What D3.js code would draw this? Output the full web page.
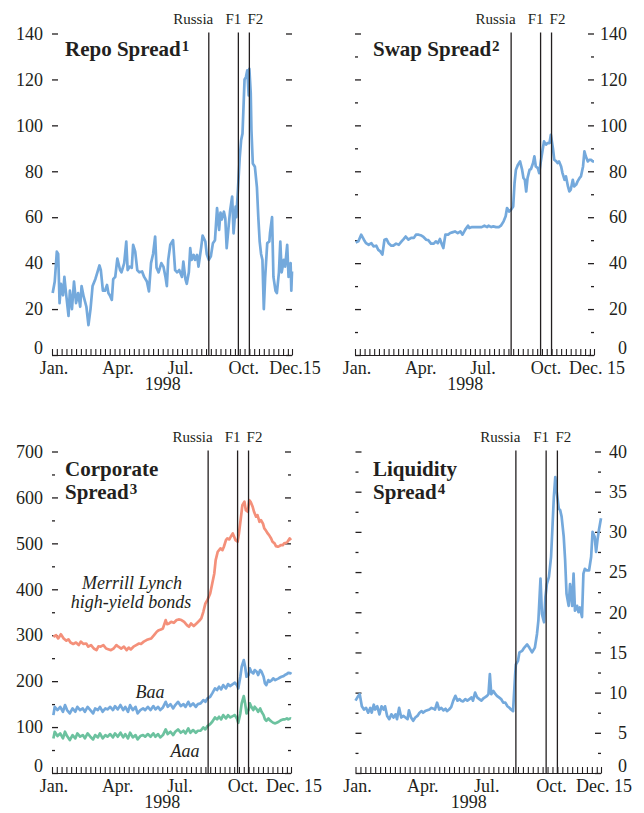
<!DOCTYPE html>
<html>
<head>
<meta charset="utf-8">
<script src="https://cdn.jsdelivr.net/npm/d3@7"></script>
<style>
  body { margin: 0; background: #fff; }
  svg text { font-family: "Liberation Serif", "Times New Roman", serif; fill: #231f20; }
</style>
</head>
<body>
<svg width="644" height="813"></svg>
<script>
// days are counted from Jan 1 1998
const events = [{label: "Russia", day: 228}, {label: "F1", day: 271}, {label: "F2", day: 287}];
const monthNames = ["Jan.", "Apr.", "Jul.", "Oct."];
const monthDays = [0, 90, 181, 273];
const lastDay = 349;

// repo spread, [day, basis points]
const repo = [[1,27],[4,32],[7,45],[9,44],[11,22.6],[13,31],[16,26],[18,34],[20,28],[24,17],[26,28],[29,20],[32,32],[35,22.6],[38,27],[41,21],[43,30],[46,25.5],[50,21],[53,13],[56,20],[59,30],[63,33],[66,36],[69,39],[71,37],[74,28],[77,28],[80,30.5],[82,27],[84,26],[87,24],[89,33],[92,34],[95,42],[99,37],[101,36],[105,40],[108,49.4],[110,37],[113,38.5],[116,38],[118,48],[121,45],[124,37],[127,36],[131,36.4],[134,34],[138,32],[141,27.7],[144,40],[147,44],[150,51.6],[152,38],[155,36],[159,40],[162,38.5],[165,34],[167,30],[169,41.4],[172,48],[176,50],[179,37],[182,36],[185,37],[189,34],[191,40.7],[194,33],[196,31],[199,36],[201,46.5],[203,41.4],[206,43.6],[208,41.4],[211,43.6],[213,38.5],[217,47],[219,52],[223,49.4],[225,44],[228,41.4],[231,43],[234,48.7],[237,50],[240,64],[243,54.5],[245,62],[247,59],[250,62.4],[252,59.5],[254,46.5],[257,56.6],[259,63],[262,69],[264,53],[267,64.6],[268,60],[270,70],[273,86],[275,93.5],[277,96.4],[280,120],[282,121],[284,124],[286,113],[287,124.6],[289,114],[290,98],[292,83.4],[295,82],[298,73],[300,60],[302,49.4],[304,44],[306,41.4],[308,20],[310,34],[313,48.7],[316,49.4],[317,53],[320,60],[322,34],[325,28],[327,27],[330,36],[332,49.4],[334,36],[337,41.4],[339,38.5],[342,48],[344,34],[347,40],[348,28],[349,36.4]];

// swap spread
const swap = [[1,49],[5,49.5],[9,52.4],[13,50.2],[16,48.7],[20,48],[24,48.7],[27,47.3],[31,47.6],[34,45.8],[37,45.1],[40,43.7],[43,50.2],[46,50.5],[49,48.7],[53,47.6],[56,47.6],[60,48.5],[64,48],[68,49.5],[71,50.5],[74,51.6],[78,50.2],[82,51],[86,51],[89,52.4],[93,52.4],[97,52],[100,51.4],[104,50.2],[107,50],[111,48.5],[115,48.5],[118,49.5],[121,48.7],[124,50.5],[127,48],[129,46.6],[132,52.4],[136,52.4],[139,53.1],[142,53.4],[146,53.8],[150,53.1],[154,53.8],[157,52.4],[161,54.6],[165,56.3],[167,55.3],[171,55.7],[175,55.7],[180,55.7],[185,55.7],[189,56.3],[193,55.7],[195,56.3],[199,55.7],[202,56],[206,55.7],[210,55.7],[213,56.3],[217,58.2],[220,60.4],[222,64],[225,62.5],[228,63.3],[231,64.7],[233,74.9],[235,80.7],[238,82.9],[241,84.3],[244,80.7],[246,77.1],[248,76.3],[250,71.2],[252,77.1],[255,80.7],[257,81],[260,83.6],[262,86.5],[264,82.1],[267,81.4],[269,79.2],[271,83.6],[274,89.4],[276,93],[279,91.6],[281,92.3],[284,92.3],[286,95.9],[289,90.1],[291,85],[294,84.3],[296,83.6],[298,84.3],[301,82.1],[303,79.2],[306,76.3],[308,77.8],[311,73.4],[313,71.2],[315,72],[318,76.3],[320,73.4],[323,74.2],[325,75.6],[328,77.1],[330,77.8],[333,82.1],[335,88.7],[337,86.5],[340,84.3],[342,85],[345,85],[347,84.3],[349,84.3]];

// Merrill Lynch high-yield bonds
const highYield = [[2,296.6],[6,300],[9,293],[13,302],[17,293],[21,288],[24,291],[27,284],[31,281],[35,284],[39,278.5],[42,286],[46,281],[50,282],[53,275],[57,278.5],[61,271],[65,267.6],[68,276],[71,275],[75,278.5],[79,271],[83,269],[86,267.6],[90,271],[94,278.5],[97,275],[101,271],[105,275],[109,267.6],[112,273],[115,269],[119,275],[123,278.5],[127,282],[130,281],[134,286],[138,289.4],[141,291],[145,293],[149,300],[153,307.5],[156,311],[159,312.6],[162,314.8],[166,333],[168,324],[171,325.7],[174,329],[178,327],[182,333],[185,334.4],[189,333],[193,329],[197,322],[200,318.4],[203,325.7],[207,320],[211,325.7],[215,331.5],[218,336.6],[221,351],[224,369.2],[227,376.5],[231,391],[234,412.8],[237,434.5],[239,463.6],[242,481.7],[244,485.3],[246,489],[249,485.3],[251,492.6],[254,507],[256,510.7],[259,508.6],[261,514.4],[264,521.6],[266,514.4],[268,507],[271,503.5],[273,521.6],[276,558],[278,583.3],[281,590.6],[283,572.4],[286,568.8],[288,594.2],[290,590.6],[293,579.7],[295,568.8],[298,558],[300,561.5],[303,547],[305,550.7],[308,543.4],[310,532.5],[312,528.9],[315,521.6],[317,518],[320,510.7],[322,503.5],[325,499.9],[327,494],[330,492.6],[332,494],[334,496.2],[337,496.2],[339,499.9],[342,501.3],[344,503.5],[347,510.7],[349,507]];

// Baa and Aaa corporate spreads share sample days
const gradeDays = [2,4,8,12,16,19,22,26,30,34,37,41,45,48,52,56,60,63,67,70,74,78,81,85,89,92,96,100,104,107,111,114,118,122,125,129,133,136,140,144,148,151,155,158,162,166,169,173,177,180,184,188,192,195,199,202,206,210,213,217,221,224,227,231,234,238,241,244,247,250,254,257,260,264,267,270,272,275,277,280,282,284,287,289,291,294,296,299,301,304,306,309,311,313,316,318,321,323,326,328,331,333,335,338,340,343,345,348,349];
const baa = [126,144,137,144,133.4,148,137,129.8,140.6,133.4,144,137,140.6,133.4,144,137,129.8,140.6,137,144,133.4,140.6,138.5,144,137,145.7,138.5,148,137,144,133.4,148,137,144,129.8,137,140.6,137,144,137,145.7,138.5,144,137,142.8,155,144,150,140.6,148,155,145.7,150,144,155,145.7,151.5,144,150,151.5,158.8,155,162.4,166,173.3,184.2,180.6,187.8,182,191.4,184.2,193.6,189.3,193.6,196.5,191.4,184.2,209.6,231.3,245.8,231.3,209.6,213.2,227.7,220.5,216.8,224,220.5,213.2,224,220.5,209.6,195,191.4,202.3,198.7,202.3,206,202.3,203.8,206,208.1,209.6,211,213.2,215.4,218.3,216.8,219.7];
const aaa = [75.3,89.8,80.4,86.2,75.3,89.8,80.4,71.7,82.6,75.3,86.2,79,82.6,75.3,86.2,79,73.1,82.6,77.5,86.2,75.3,82.6,79,84.7,77.5,86.2,79,87.7,77.5,84.7,75.3,87.7,77.5,82.6,73.1,80.4,82.6,79,84.7,79,86.2,79,84.7,77.5,82.6,94.9,84.7,89.8,82.6,89.8,94.9,87.7,92,86.2,97.1,87.7,93.5,87.7,92,92,99.3,94.9,102.2,106.5,111.6,121,116.7,122.5,116.7,126.1,118.8,126.1,121,123.9,126.1,118.8,109.4,129.7,151.5,167.5,151.5,129.7,137,151.5,144.3,137,144.3,138.5,133.4,140.6,133.4,126.1,116.7,113.8,118.8,115.2,111.6,109.4,108,109.4,111.6,113.8,115.2,116.7,116.7,118.8,116.7,118.8,118.1];

// liquidity spread
const liquidity = [[0,9.0],[4,9.6],[6,9.8],[9,8.3],[12,7.9],[15,8.1],[18,7.5],[21,8.1],[23,7.5],[26,8.5],[28,7.9],[31,8.3],[34,7.3],[37,8.3],[40,7.9],[42,8.3],[45,7.1],[48,6.7],[51,7.3],[54,6.9],[57,7.3],[59,6.7],[62,8.1],[65,6.9],[68,7.1],[71,6.9],[74,6.7],[76,7.8],[79,6.9],[82,6.5],[85,6.9],[88,7.1],[91,7.5],[94,7.7],[96,7.5],[99,7.7],[102,7.8],[105,7.9],[108,8.1],[111,8.0],[113,7.9],[116,8.75],[119,7.9],[122,8.1],[125,7.8],[128,8.0],[130,7.7],[133,7.9],[136,8.2],[139,9.0],[142,9.6],[145,9.0],[148,9.2],[150,9.0],[153,8.9],[156,9.2],[159,9.0],[162,9.2],[165,9.4],[167,9.0],[170,10.0],[173,9.4],[176,9.2],[179,9.0],[182,9.3],[184,9.4],[187,9.6],[189,9.8],[191,12.3],[193,9.8],[196,10.2],[199,9.8],[201,9.6],[204,9.4],[207,9.2],[210,8.75],[213,8.75],[216,8.3],[219,8.1],[221,7.9],[224,7.7],[227,12.3],[228,13.5],[231,13.95],[233,15.0],[237,15.2],[240,15.6],[244,16.0],[247,15.6],[251,15.0],[255,15.6],[258,17.3],[260,19.0],[263,24.2],[265,19.8],[268,18.75],[270,21.9],[272,23.5],[275,24.4],[278,26.9],[280,30.6],[282,34.4],[284,36.8],[286,35.0],[289,32.9],[291,32.7],[293,31.9],[296,29.4],[298,26.5],[300,22.3],[303,20.8],[305,23.5],[308,20.8],[310,24.8],[312,20.2],[315,20.8],[317,20.0],[319,20.6],[322,19.4],[324,24.8],[326,25.4],[329,25.2],[332,25.2],[335,26.9],[337,30.0],[340,29.4],[342,27.5],[344,29.0],[346,30.2],[349,31.7]];

const blue = "#74a9dc", salmon = "#f4907a", green = "#6cc29f";
const ink = "#231f20";

var svg = d3.select("svg");
var day = d => new Date(Date.UTC(1998, 0, 1 + d));

function panel(p) {
  var g = svg.append("g");
  var x = d3.scaleUtc().domain([day(0), day(lastDay)]).range([p.x0, p.x1]);
  var y = d3.scaleLinear().domain([0, p.max]).range([p.y0, p.y1]);

  // weekly ticks pointing up from the base line
  var weeks = d3.range(0, lastDay, 7).map(day).concat([day(lastDay)]);
  g.append("g")
    .attr("transform", `translate(0,${p.y0})`)
    .attr("color", ink)
    .call(d3.axisBottom(x).tickValues(weeks).tickSize(-6).tickSizeOuter(0).tickFormat(""))
    .call(a => a.selectAll("line,path").attr("stroke-width", 1.1));

  g.append("g").selectAll("text")
    .data(monthDays)
    .enter().append("text")
    .attr("x", d => x(day(d)) + (d ? 4 : 2))
    .attr("y", p.y0 + 18.5)
    .attr("text-anchor", "middle")
    .attr("font-size", 18)
    .text((d, i) => monthNames[i]);
  g.append("text")
    .attr("x", x(day(lastDay)) + 3).attr("y", p.y0 + 18.5)
    .attr("text-anchor", "middle").attr("font-size", 18)
    .text(p.endLabel);
  g.append("text")
    .attr("x", x(day(161))).attr("y", p.y0 + 35)
    .attr("text-anchor", "middle").attr("font-size", 18)
    .text("1998");

  // y ticks on both sides, pointing inwards
  function yAxis(axis, side, values, size, labelled) {
    var a = g.append("g")
      .attr("transform", `translate(${side == "left" ? p.x0 : p.x1},0)`)
      .attr("color", ink)
      .call(axis(y).tickValues(values).tickSize(-size).tickPadding(9)
        .tickFormat(labelled ? d3.format("d") : ""));
    a.select(".domain").remove();
    a.selectAll("line").attr("stroke-width", 1.3);
    a.selectAll("text").attr("font-size", 18).attr("font-family", "Liberation Serif")
      .attr("y", d => d == 0 ? -7.5 : 0);
    if (labelled && side == "right")
      a.selectAll("text").attr("text-anchor", "end").attr("x", 627 - p.x1);
  }
  ["left", "right"].forEach(side => {
    var axis = side == "left" ? d3.axisLeft : d3.axisRight;
    yAxis(axis, side, p.major, 6, side == p.labels);
    if (p.minor) yAxis(axis, side, p.minor, 3, false);
  });

  var line = d3.line().x(d => x(day(d[0]))).y(d => y(d[1]));
  p.series.forEach(s => {
    g.append("path")
      .datum(s.data)
      .attr("d", line)
      .attr("fill", "none")
      .attr("stroke", s.color)
      .attr("stroke-width", 2.7)
      .attr("stroke-linejoin", "round");
  });

  // event markers
  g.selectAll("line.event")
    .data(events)
    .enter().append("line")
    .attr("class", "event")
    .attr("x1", d => x(day(d.day))).attr("x2", d => x(day(d.day)))
    .attr("y1", p.y1 - 1).attr("y2", p.y0)
    .attr("stroke", ink).attr("stroke-width", 1.3);
  g.selectAll("text.event")
    .data(events)
    .enter().append("text")
    .attr("class", "event")
    .attr("x", d => x(day(d.day)) + (d.label == "Russia" ? 4.5 : d.label == "F1" ? -5 : 6))
    .attr("y", p.y1 - 10)
    .attr("text-anchor", d => d.label == "Russia" ? "end" : "middle")
    .attr("font-size", 15)
    .text(d => d.label);

  p.title.forEach((t, i) => {
    var txt = g.append("text")
      .attr("x", p.tx).attr("y", p.ty + i * 23)
      .attr("font-size", 21).attr("font-weight", "bold")
      .text(t);
    if (i == p.title.length - 1)
      txt.append("tspan").attr("font-size", 15).attr("dy", -5).attr("dx", 1).text(p.sup);
  });
  return g;
}

panel({x0: 52, x1: 292, y0: 355, y1: 33.5, max: 140,
  major: d3.range(0, 141, 20), labels: "left", endLabel: "Dec.15",
  title: ["Repo Spread"], sup: "1", tx: 65, ty: 55.5,
  series: [{data: repo, color: blue}]});

panel({x0: 355, x1: 594, y0: 355, y1: 33.5, max: 140,
  major: d3.range(0, 141, 20), minor: d3.range(10, 140, 20), labels: "right", endLabel: "Dec. 15",
  title: ["Swap Spread"], sup: "2", tx: 373, ty: 55.5,
  series: [{data: swap, color: blue}]});

var corp = panel({x0: 52, x1: 291, y0: 773, y1: 451.5, max: 700,
  major: d3.range(0, 701, 100), minor: d3.range(50, 700, 100), labels: "left", endLabel: "Dec. 15",
  title: ["Corporate", "Spread"], sup: "3", tx: 65, ty: 476,
  series: [{data: highYield, color: salmon},
           {data: d3.zip(gradeDays, baa), color: blue},
           {data: d3.zip(gradeDays, aaa), color: green}]});

panel({x0: 355.5, x1: 601, y0: 773, y1: 451.5, max: 40,
  major: d3.range(0, 41, 5), minor: d3.range(2.5, 40, 5), labels: "right", endLabel: "Dec. 15",
  title: ["Liquidity", "Spread"], sup: "4", tx: 373, ty: 476,
  series: [{data: liquidity, color: blue}]});

// series names in the corporate panel
[["Merrill Lynch", 132, 589], ["high-yield bonds", 131, 608], ["Baa", 150, 698], ["Aaa", 185, 757]]
  .forEach(n => {
    corp.append("text")
      .attr("x", n[1]).attr("y", n[2])
      .attr("text-anchor", "middle")
      .attr("font-size", 18).attr("font-style", "italic")
      .text(n[0]);
  });
</script>
</body>
</html>
